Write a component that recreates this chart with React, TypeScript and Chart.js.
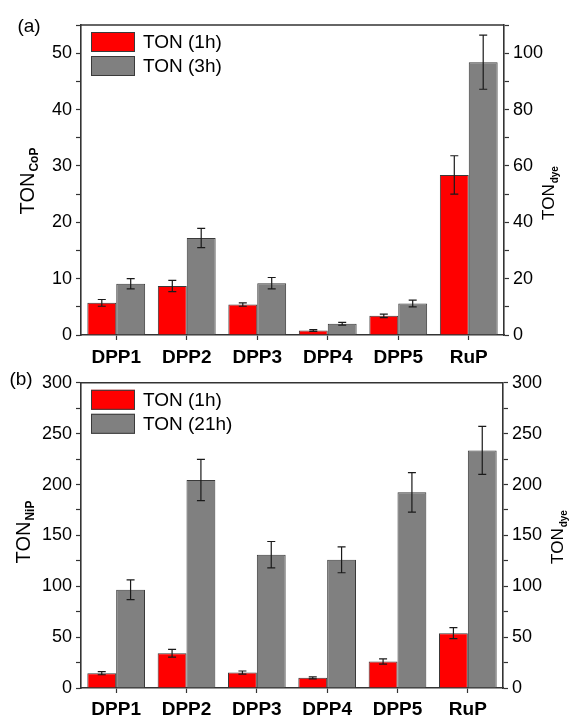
import React, { useEffect, useRef } from "react";
import { Chart, registerables } from "chart.js";

Chart.register(...registerables);

const categories = ["DPP1", "DPP2", "DPP3", "DPP4", "DPP5", "RuP"];

// Panel (a)
const tonA1h = [5.7, 8.7, 5.4, 0.8, 3.4, 28.4];
const errA1h = [0.6, 1.0, 0.3, 0.15, 0.3, 3.4];
const tonA3h = [9.1, 17.2, 9.2, 2.0, 5.6, 48.4];
const errA3h = [0.9, 1.7, 1.0, 0.25, 0.6, 4.8];

// Panel (b)
const tonB1h = [14.5, 34.2, 15.2, 10.0, 26.1, 53.9];
const errB1h = [1.5, 3.8, 1.5, 1.0, 2.6, 5.4];
const tonB21h = [96.5, 204.5, 131, 126, 192.3, 233.5];
const errB21h = [9.7, 20.3, 13, 12.7, 19.4, 23.6];

const FONT = "'Liberation Sans', Arial, Helvetica, sans-serif";
const RED = "#ff0000";
const GREY = "#808080";
const EDGE = "#3a3a3a";
const AXIS = "#333333";

const panelDecor = {
  id: "panelDecor",
  afterDatasetsDraw(chart: any, _args: any, opts: any) {
    const ctx = chart.ctx;
    ctx.save();
    ctx.strokeStyle = "#1a1a1a";
    ctx.lineWidth = 1.2;
    chart.data.datasets.forEach((ds: any, i: number) => {
      const meta = chart.getDatasetMeta(i);
      const scale = chart.scales[meta.yAxisID];
      const errs = ds.errors || [];
      meta.data.forEach((bar: any, j: number) => {
        const v = ds.data[j];
        const e = errs[j] || 0;
        const yt = scale.getPixelForValue(v + e);
        const yb = scale.getPixelForValue(v - e);
        const x = bar.x;
        ctx.beginPath();
        ctx.moveTo(x, yt);
        ctx.lineTo(x, yb);
        ctx.moveTo(x - 4, yt);
        ctx.lineTo(x + 4, yt);
        ctx.moveTo(x - 4, yb);
        ctx.lineTo(x + 4, yb);
        ctx.stroke();
      });
    });
    ctx.restore();
  },
  afterDraw(chart: any, _args: any, opts: any) {
    const ctx = chart.ctx;
    const ca = chart.chartArea;
    ctx.save();
    // top frame line
    ctx.strokeStyle = AXIS;
    ctx.lineWidth = 1.5;
    ctx.beginPath();
    ctx.moveTo(ca.left, ca.top);
    ctx.lineTo(ca.right, ca.top);
    ctx.stroke();

    // legend
    chart.data.datasets.forEach((ds: any, i: number) => {
      const bx = ca.left + 10;
      const by = ca.top + 7 + i * 24;
      ctx.fillStyle = ds.backgroundColor;
      ctx.fillRect(bx, by, 44, 20);
      ctx.strokeStyle = EDGE;
      ctx.lineWidth = 1;
      ctx.strokeRect(bx + 0.5, by + 0.5, 43, 19);
      ctx.fillStyle = "#000";
      ctx.font = `19px ${FONT}`;
      ctx.textBaseline = "middle";
      ctx.textAlign = "left";
      ctx.fillText(ds.label, bx + 52, by + 11);
    });

    // panel tag
    ctx.fillStyle = "#000";
    ctx.font = `19px ${FONT}`;
    ctx.textAlign = "center";
    ctx.textBaseline = "middle";
    ctx.fillText(opts.tag, opts.tagX, opts.tagY);

    // rotated titles
    const drawTitle = (main: string, sub: string, cx: number, cy: number, size: number) => {
      ctx.save();
      ctx.translate(cx, cy);
      ctx.rotate(-Math.PI / 2);
      ctx.font = `${size}px ${FONT}`;
      const wMain = ctx.measureText(main).width;
      ctx.font = `bold ${Math.round(size * 0.6)}px ${FONT}`;
      const wSub = ctx.measureText(sub).width;
      const total = wMain + wSub + 1;
      const x0 = -total / 2;
      ctx.fillStyle = "#000";
      ctx.textAlign = "left";
      ctx.textBaseline = "middle";
      ctx.font = `${size}px ${FONT}`;
      ctx.fillText(main, x0, 0);
      ctx.font = `bold ${Math.round(size * 0.6)}px ${FONT}`;
      ctx.fillText(sub, x0 + wMain + 1, size * 0.35);
      ctx.restore();
    };
    drawTitle(opts.leftMain, opts.leftSub, opts.leftX, opts.leftY, opts.leftSize);
    drawTitle(opts.rightMain, opts.rightSub, opts.rightX, opts.rightY, opts.rightSize);
    ctx.restore();
  },
};

function makeConfig(p: any) {
  const tickFont = { family: FONT, size: 18 };
  return {
    type: "bar",
    data: {
      labels: categories,
      datasets: [
        {
          label: p.label1,
          data: p.data1,
          errors: p.err1,
          backgroundColor: RED,
          borderColor: EDGE,
          borderWidth: 1,
          yAxisID: "y",
        },
        {
          label: p.label2,
          data: p.data2,
          errors: p.err2,
          backgroundColor: GREY,
          borderColor: EDGE,
          borderWidth: 1,
          yAxisID: "y",
        },
      ],
    },
    options: {
      responsive: false,
      animation: false,
      events: [],
      layout: { padding: { left: 0, right: 0, top: p.top, bottom: 0 } },
      datasets: { bar: { categoryPercentage: 0.82, barPercentage: 1.0 } },
      plugins: {
        legend: { display: false },
        tooltip: { enabled: false },
        panelDecor: p.decor,
      },
      scales: {
        x: {
          type: "category",
          offset: true,
          grid: {
            display: true,
            offset: false,
            drawOnChartArea: false,
            drawTicks: true,
            tickLength: 5,
            color: AXIS,
            tickWidth: 1.2,
          },
          border: { display: true, color: AXIS, width: 1.6 },
          ticks: {
            color: "#000",
            font: { family: FONT, size: 19, weight: "bold" },
            padding: p.xPad,
            maxRotation: 0,
            autoSkip: false,
          },
          afterFit: (s: any) => {
            s.height = p.xHeight;
          },
        },
        y: {
          type: "linear",
          position: "left",
          min: 0,
          max: p.yMax,
          grid: {
            display: true,
            drawOnChartArea: false,
            drawTicks: true,
            tickLength: 5,
            color: AXIS,
            tickWidth: 1.2,
          },
          border: { display: true, color: AXIS, width: 1.6 },
          ticks: {
            stepSize: p.yStep,
            color: "#000",
            font: tickFont,
            padding: 4,
            callback: (v: number) => (v % p.yLabelEvery === 0 ? String(v) : ""),
          },
          afterFit: (s: any) => {
            s.width = 81;
          },
        },
        y2: {
          type: "linear",
          position: "right",
          min: 0,
          max: p.y2Max,
          grid: {
            display: true,
            drawOnChartArea: false,
            drawTicks: true,
            tickLength: 5,
            color: AXIS,
            tickWidth: 1.2,
          },
          border: { display: true, color: AXIS, width: 1.6 },
          ticks: {
            stepSize: p.y2Step,
            color: "#000",
            font: tickFont,
            padding: 4,
            callback: (v: number) => (v % p.y2LabelEvery === 0 ? String(v) : ""),
          },
          afterFit: (s: any) => {
            s.width = p.rightW;
          },
        },
      },
    },
    plugins: [panelDecor],
  };
}

function Panel({ cfg, width, height, top }: any) {
  const ref = useRef<HTMLCanvasElement | null>(null);
  useEffect(() => {
    if (!ref.current) return;
    const chart = new Chart(ref.current, makeConfig(cfg) as any);
    return () => chart.destroy();
  }, []);
  return (
    <canvas
      ref={ref}
      width={width}
      height={height}
      style={{ position: "absolute", left: 0, top, width, height }}
    />
  );
}

const cfgA = {
  label1: "TON (1h)",
  label2: "TON (3h)",
  data1: tonA1h,
  err1: errA1h,
  data2: tonA3h,
  err2: errA3h,
  top: 25,
  xHeight: 368 - 335,
  xPad: 6,
  yMax: 55,
  yStep: 5,
  yLabelEvery: 10,
  y2Max: 110,
  y2Step: 10,
  y2LabelEvery: 20,
  rightW: 571 - 504,
  decor: {
    tag: "(a)",
    tagX: 29,
    tagY: 27,
    leftMain: "TON",
    leftSub: "CoP",
    leftX: 28,
    leftY: 181,
    leftSize: 20,
    rightMain: "TON",
    rightSub: "dye",
    rightX: 549,
    rightY: 193,
    rightSize: 17,
  },
};

const cfgB = {
  label1: "TON (1h)",
  label2: "TON (21h)",
  data1: tonB1h,
  err1: errB1h,
  data2: tonB21h,
  err2: errB21h,
  top: 10,
  xHeight: 348 - 320,
  xPad: 5,
  yMax: 300,
  yStep: 25,
  yLabelEvery: 50,
  y2Max: 300,
  y2Step: 25,
  y2LabelEvery: 50,
  rightW: 571 - 503,
  decor: {
    tag: "(b)",
    tagX: 21,
    tagY: 12,
    leftMain: "TON",
    leftSub: "NiP",
    leftX: 24,
    leftY: 164,
    leftSize: 20,
    rightMain: "TON",
    rightSub: "dye",
    rightX: 558,
    rightY: 169,
    rightSize: 17,
  },
};

export default function App() {
  return (
    <div
      style={{
        position: "absolute",
        left: 0,
        top: 0,
        width: 571,
        height: 716,
        background: "#ffffff",
        overflow: "hidden",
      }}
    >
      <Panel cfg={cfgA} width={571} height={368} top={0} />
      <Panel cfg={cfgB} width={571} height={348} top={368} />
    </div>
  );
}
